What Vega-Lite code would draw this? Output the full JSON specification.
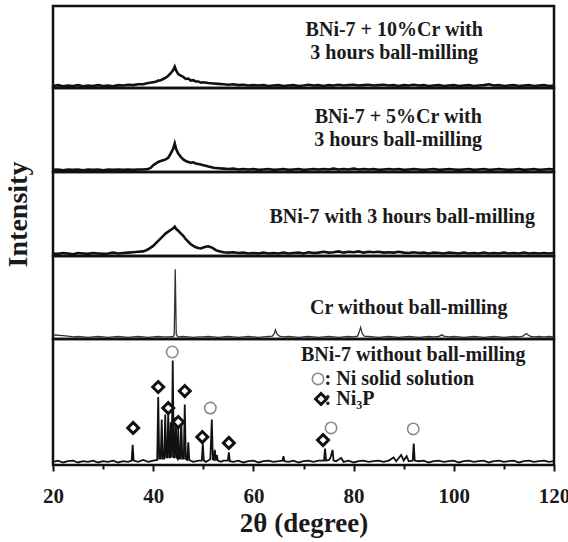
{
  "$schema": "https://vega.github.io/schema/vega-lite/v6.json",
  "padding": {"left": 2, "top": 4, "right": 0, "bottom": 0},
  "background": "white",
  "spacing": 0,
  "bounds": "flush",
  "config": {
    "view": {"stroke": "#111", "strokeWidth": 2.5},
    "font": "Liberation Serif",
    "text": {"font": "Liberation Serif", "fontWeight": "bold", "fontSize": 20, "color": "#1a1a1a"}
  },
  "datasets": {
    "p1": [
      {"theta":20,"intensity":2.5},{"theta":21,"intensity":3.5},{"theta":22,"intensity":2},{"theta":23,"intensity":3},{"theta":24,"intensity":2.5},{"theta":25,"intensity":3.5},{"theta":26,"intensity":2},{"theta":27,"intensity":3},{"theta":28,"intensity":2.5},{"theta":29,"intensity":3.5},{"theta":30,"intensity":2.5},{"theta":31,"intensity":3},{"theta":32,"intensity":2},{"theta":33,"intensity":3.5},{"theta":34,"intensity":3},{"theta":35,"intensity":4},{"theta":36,"intensity":3.5},{"theta":37,"intensity":4.5},{"theta":38,"intensity":4.5},{"theta":39,"intensity":6},{"theta":40,"intensity":7},{"theta":40.5,"intensity":7.5},{"theta":41,"intensity":9},{"theta":41.5,"intensity":9.5},{"theta":42,"intensity":11},{"theta":42.5,"intensity":12.5},{"theta":43,"intensity":15},{"theta":43.5,"intensity":18},{"theta":44,"intensity":22},{"theta":44.3,"intensity":26},{"theta":44.6,"intensity":21},{"theta":45,"intensity":17},{"theta":45.5,"intensity":15},{"theta":46,"intensity":13.5},{"theta":46.5,"intensity":11},{"theta":47,"intensity":11.5},{"theta":47.5,"intensity":9},{"theta":48,"intensity":9.5},{"theta":48.5,"intensity":8},{"theta":49,"intensity":8},{"theta":49.5,"intensity":6.5},{"theta":50,"intensity":7},{"theta":51,"intensity":6},{"theta":52,"intensity":5.5},{"theta":53,"intensity":5},{"theta":54,"intensity":4.5},{"theta":55,"intensity":4},{"theta":56,"intensity":4.5},{"theta":57,"intensity":3.5},{"theta":58,"intensity":4},{"theta":59,"intensity":3},{"theta":60,"intensity":3.5},{"theta":61,"intensity":3},{"theta":62,"intensity":3.5},{"theta":63,"intensity":2.5},{"theta":64,"intensity":3},{"theta":65,"intensity":3.5},{"theta":66,"intensity":2.5},{"theta":67,"intensity":3},{"theta":68,"intensity":3.5},{"theta":69,"intensity":2.5},{"theta":70,"intensity":3},{"theta":71,"intensity":4},{"theta":72,"intensity":3},{"theta":73,"intensity":3.5},{"theta":74,"intensity":2.5},{"theta":75,"intensity":3.5},{"theta":76,"intensity":3},{"theta":77,"intensity":4},{"theta":78,"intensity":3},{"theta":79,"intensity":3.5},{"theta":80,"intensity":4},{"theta":81,"intensity":3},{"theta":82,"intensity":3.5},{"theta":83,"intensity":4},{"theta":84,"intensity":3},{"theta":85,"intensity":3.5},{"theta":86,"intensity":4},{"theta":87,"intensity":3},{"theta":88,"intensity":3.5},{"theta":89,"intensity":2.5},{"theta":90,"intensity":3.5},{"theta":91,"intensity":3},{"theta":92,"intensity":4},{"theta":93,"intensity":3},{"theta":94,"intensity":3.5},{"theta":95,"intensity":2.5},{"theta":96,"intensity":3},{"theta":97,"intensity":3.5},{"theta":98,"intensity":2.5},{"theta":99,"intensity":3},{"theta":100,"intensity":3.5},{"theta":101,"intensity":2.5},{"theta":102,"intensity":3},{"theta":103,"intensity":3.5},{"theta":104,"intensity":2.5},{"theta":105,"intensity":3},{"theta":106,"intensity":3.5},{"theta":107,"intensity":4.5},{"theta":108,"intensity":3},{"theta":109,"intensity":3.5},{"theta":110,"intensity":2.5},{"theta":111,"intensity":3},{"theta":112,"intensity":3.5},{"theta":113,"intensity":2.5},{"theta":114,"intensity":3},{"theta":115,"intensity":3.5},{"theta":116,"intensity":2.5},{"theta":117,"intensity":3},{"theta":118,"intensity":3.5},{"theta":119,"intensity":2.5},{"theta":120,"intensity":3}
    ],
    "p2": [
      {"theta":20,"intensity":2.5},{"theta":21,"intensity":3},{"theta":22,"intensity":2},{"theta":23,"intensity":3},{"theta":24,"intensity":2.5},{"theta":25,"intensity":3},{"theta":26,"intensity":2},{"theta":27,"intensity":3},{"theta":28,"intensity":2.5},{"theta":29,"intensity":3},{"theta":30,"intensity":2},{"theta":31,"intensity":3},{"theta":32,"intensity":2.5},{"theta":33,"intensity":3},{"theta":34,"intensity":2.5},{"theta":35,"intensity":3},{"theta":36,"intensity":2.5},{"theta":37,"intensity":3},{"theta":38,"intensity":3},{"theta":39,"intensity":3.5},{"theta":39.5,"intensity":5},{"theta":40,"intensity":8},{"theta":40.5,"intensity":10},{"theta":41,"intensity":12},{"theta":41.5,"intensity":13},{"theta":42,"intensity":14},{"theta":42.5,"intensity":15},{"theta":43,"intensity":17},{"theta":43.5,"intensity":22},{"theta":44,"intensity":28},{"theta":44.3,"intensity":34},{"theta":44.6,"intensity":27},{"theta":45,"intensity":22},{"theta":45.5,"intensity":18},{"theta":46,"intensity":15},{"theta":46.5,"intensity":13},{"theta":47,"intensity":12},{"theta":47.5,"intensity":11},{"theta":48,"intensity":11.5},{"theta":48.5,"intensity":10},{"theta":49,"intensity":9.5},{"theta":49.5,"intensity":9},{"theta":50,"intensity":8},{"theta":50.5,"intensity":7.5},{"theta":51,"intensity":6.5},{"theta":51.5,"intensity":6},{"theta":52,"intensity":5},{"theta":53,"intensity":4.5},{"theta":54,"intensity":4},{"theta":55,"intensity":3.5},{"theta":56,"intensity":4},{"theta":57,"intensity":3},{"theta":58,"intensity":3.5},{"theta":59,"intensity":3},{"theta":60,"intensity":3.5},{"theta":61,"intensity":2.5},{"theta":62,"intensity":3},{"theta":63,"intensity":3.5},{"theta":64,"intensity":2.5},{"theta":65,"intensity":3},{"theta":66,"intensity":3.5},{"theta":67,"intensity":2.5},{"theta":68,"intensity":3},{"theta":69,"intensity":3.5},{"theta":70,"intensity":2.5},{"theta":71,"intensity":3},{"theta":72,"intensity":3.5},{"theta":73,"intensity":3},{"theta":74,"intensity":3.5},{"theta":75,"intensity":3},{"theta":76,"intensity":4},{"theta":77,"intensity":3},{"theta":78,"intensity":3.5},{"theta":79,"intensity":3},{"theta":80,"intensity":4},{"theta":81,"intensity":3},{"theta":82,"intensity":3.5},{"theta":83,"intensity":3},{"theta":84,"intensity":3.5},{"theta":85,"intensity":2.5},{"theta":86,"intensity":3},{"theta":87,"intensity":3.5},{"theta":88,"intensity":3},{"theta":89,"intensity":3.5},{"theta":90,"intensity":2.5},{"theta":91,"intensity":3},{"theta":92,"intensity":3.5},{"theta":93,"intensity":3},{"theta":94,"intensity":2.5},{"theta":95,"intensity":3},{"theta":96,"intensity":3.5},{"theta":97,"intensity":2.5},{"theta":98,"intensity":3},{"theta":99,"intensity":3.5},{"theta":100,"intensity":3},{"theta":101,"intensity":2.5},{"theta":102,"intensity":3},{"theta":103,"intensity":3.5},{"theta":104,"intensity":2.5},{"theta":105,"intensity":3},{"theta":106,"intensity":3.5},{"theta":107,"intensity":2.5},{"theta":108,"intensity":3},{"theta":109,"intensity":3.5},{"theta":110,"intensity":3},{"theta":111,"intensity":2.5},{"theta":112,"intensity":3},{"theta":113,"intensity":3.5},{"theta":114,"intensity":2.5},{"theta":115,"intensity":3},{"theta":116,"intensity":3.5},{"theta":117,"intensity":2.5},{"theta":118,"intensity":3},{"theta":119,"intensity":3.5},{"theta":120,"intensity":3}
    ],
    "p3": [
      {"theta":20,"intensity":3},{"theta":21,"intensity":2.5},{"theta":22,"intensity":3.5},{"theta":23,"intensity":3},{"theta":24,"intensity":2},{"theta":25,"intensity":3.5},{"theta":26,"intensity":3},{"theta":27,"intensity":2.5},{"theta":28,"intensity":3.5},{"theta":29,"intensity":3},{"theta":30,"intensity":2.5},{"theta":31,"intensity":3},{"theta":32,"intensity":4},{"theta":33,"intensity":3},{"theta":34,"intensity":3.5},{"theta":35,"intensity":4},{"theta":36,"intensity":4.5},{"theta":37,"intensity":5},{"theta":38,"intensity":5.5},{"theta":38.5,"intensity":6.5},{"theta":39,"intensity":8},{"theta":39.5,"intensity":10},{"theta":40,"intensity":12},{"theta":40.5,"intensity":15},{"theta":41,"intensity":18},{"theta":41.5,"intensity":21},{"theta":42,"intensity":24},{"theta":42.5,"intensity":27},{"theta":43,"intensity":29},{"theta":43.5,"intensity":31},{"theta":44,"intensity":33},{"theta":44.3,"intensity":35},{"theta":44.6,"intensity":32},{"theta":45,"intensity":30},{"theta":45.5,"intensity":27},{"theta":46,"intensity":24},{"theta":46.5,"intensity":20},{"theta":47,"intensity":17},{"theta":47.5,"intensity":14},{"theta":48,"intensity":12},{"theta":48.5,"intensity":10.5},{"theta":49,"intensity":9.5},{"theta":49.5,"intensity":9},{"theta":50,"intensity":10},{"theta":50.5,"intensity":11},{"theta":51,"intensity":11.5},{"theta":51.5,"intensity":10.5},{"theta":52,"intensity":9},{"theta":52.5,"intensity":7},{"theta":53,"intensity":6},{"theta":54,"intensity":4.5},{"theta":55,"intensity":4},{"theta":56,"intensity":4.5},{"theta":57,"intensity":3.5},{"theta":58,"intensity":4},{"theta":59,"intensity":3},{"theta":60,"intensity":3.5},{"theta":61,"intensity":3},{"theta":62,"intensity":4},{"theta":63,"intensity":3},{"theta":64,"intensity":3.5},{"theta":65,"intensity":3},{"theta":66,"intensity":4},{"theta":67,"intensity":3},{"theta":68,"intensity":3.5},{"theta":69,"intensity":4},{"theta":70,"intensity":3},{"theta":71,"intensity":4.5},{"theta":72,"intensity":3.5},{"theta":73,"intensity":4},{"theta":74,"intensity":5},{"theta":75,"intensity":4},{"theta":76,"intensity":4.5},{"theta":77,"intensity":5.5},{"theta":78,"intensity":4},{"theta":79,"intensity":5},{"theta":80,"intensity":4.5},{"theta":81,"intensity":5.5},{"theta":82,"intensity":4},{"theta":83,"intensity":5},{"theta":84,"intensity":4.5},{"theta":85,"intensity":5},{"theta":86,"intensity":4},{"theta":87,"intensity":4.5},{"theta":88,"intensity":4},{"theta":89,"intensity":5},{"theta":90,"intensity":4},{"theta":91,"intensity":3.5},{"theta":92,"intensity":4.5},{"theta":93,"intensity":3.5},{"theta":94,"intensity":4},{"theta":95,"intensity":3},{"theta":96,"intensity":4},{"theta":97,"intensity":3.5},{"theta":98,"intensity":3},{"theta":99,"intensity":4},{"theta":100,"intensity":3.5},{"theta":101,"intensity":3},{"theta":102,"intensity":4},{"theta":103,"intensity":3},{"theta":104,"intensity":3.5},{"theta":105,"intensity":3},{"theta":106,"intensity":4},{"theta":107,"intensity":3},{"theta":108,"intensity":3.5},{"theta":109,"intensity":3},{"theta":110,"intensity":4},{"theta":111,"intensity":3},{"theta":112,"intensity":3.5},{"theta":113,"intensity":3},{"theta":114,"intensity":4},{"theta":115,"intensity":3},{"theta":116,"intensity":3.5},{"theta":117,"intensity":3},{"theta":118,"intensity":3.5},{"theta":119,"intensity":3},{"theta":120,"intensity":3.5}
    ],
    "p4": [
      {"theta":20,"intensity":4},{"theta":20.5,"intensity":5},{"theta":21,"intensity":4.5},{"theta":22,"intensity":4},{"theta":23,"intensity":3.5},{"theta":24,"intensity":2.5},{"theta":25,"intensity":3},{"theta":26,"intensity":2.5},{"theta":27,"intensity":2},{"theta":28,"intensity":2.5},{"theta":29,"intensity":3},{"theta":30,"intensity":2.5},{"theta":31,"intensity":2},{"theta":32,"intensity":2.5},{"theta":33,"intensity":3},{"theta":34,"intensity":2.5},{"theta":35,"intensity":2},{"theta":36,"intensity":2.5},{"theta":37,"intensity":3},{"theta":38,"intensity":2.5},{"theta":39,"intensity":2},{"theta":40,"intensity":2.5},{"theta":41,"intensity":3},{"theta":42,"intensity":2.5},{"theta":43,"intensity":2.5},{"theta":44,"intensity":3},{"theta":44.2,"intensity":5},{"theta":44.4,"intensity":84},{"theta":44.6,"intensity":6},{"theta":44.8,"intensity":3.5},{"theta":45,"intensity":2.5},{"theta":46,"intensity":3},{"theta":47,"intensity":2.5},{"theta":48,"intensity":2},{"theta":49,"intensity":2.5},{"theta":50,"intensity":2.5},{"theta":51,"intensity":3},{"theta":52,"intensity":2.5},{"theta":53,"intensity":2},{"theta":54,"intensity":2.5},{"theta":55,"intensity":3},{"theta":56,"intensity":2.5},{"theta":57,"intensity":2},{"theta":58,"intensity":2.5},{"theta":59,"intensity":3},{"theta":60,"intensity":2.5},{"theta":61,"intensity":2},{"theta":62,"intensity":2.5},{"theta":63,"intensity":3},{"theta":63.8,"intensity":3.5},{"theta":64.2,"intensity":7},{"theta":64.4,"intensity":11},{"theta":64.7,"intensity":6},{"theta":65.2,"intensity":3.5},{"theta":66,"intensity":2.5},{"theta":67,"intensity":3},{"theta":68,"intensity":2.5},{"theta":69,"intensity":2},{"theta":70,"intensity":2.5},{"theta":71,"intensity":3},{"theta":72,"intensity":2.5},{"theta":73,"intensity":2},{"theta":74,"intensity":2.5},{"theta":75,"intensity":3},{"theta":76,"intensity":2.5},{"theta":77,"intensity":2},{"theta":78,"intensity":2.5},{"theta":79,"intensity":3},{"theta":80,"intensity":2.5},{"theta":80.8,"intensity":3.5},{"theta":81.1,"intensity":8},{"theta":81.4,"intensity":14},{"theta":81.7,"intensity":7},{"theta":82.1,"intensity":3.5},{"theta":83,"intensity":3},{"theta":84,"intensity":2.5},{"theta":85,"intensity":2},{"theta":86,"intensity":2.5},{"theta":87,"intensity":3},{"theta":88,"intensity":2.5},{"theta":89,"intensity":2},{"theta":90,"intensity":2.5},{"theta":91,"intensity":3},{"theta":92,"intensity":2.5},{"theta":93,"intensity":2},{"theta":94,"intensity":2.5},{"theta":95,"intensity":3},{"theta":96,"intensity":2.5},{"theta":97,"intensity":3},{"theta":97.3,"intensity":4},{"theta":97.6,"intensity":5},{"theta":98,"intensity":3.5},{"theta":99,"intensity":2.5},{"theta":100,"intensity":3},{"theta":101,"intensity":2.5},{"theta":102,"intensity":2},{"theta":103,"intensity":2.5},{"theta":104,"intensity":3},{"theta":105,"intensity":2.5},{"theta":106,"intensity":2},{"theta":107,"intensity":2.5},{"theta":108,"intensity":3},{"theta":109,"intensity":2.5},{"theta":110,"intensity":2},{"theta":111,"intensity":2.5},{"theta":112,"intensity":3},{"theta":113,"intensity":2.5},{"theta":113.8,"intensity":3.5},{"theta":114.2,"intensity":5.5},{"theta":114.5,"intensity":6.5},{"theta":114.9,"intensity":4.5},{"theta":115.4,"intensity":3},{"theta":116,"intensity":2.5},{"theta":117,"intensity":3},{"theta":118,"intensity":2.5},{"theta":119,"intensity":3},{"theta":120,"intensity":2.5}
    ],
    "p5": [
      {"theta":20,"intensity":2.5},{"theta":21,"intensity":3.5},{"theta":22,"intensity":2},{"theta":23,"intensity":3},{"theta":24,"intensity":3.5},{"theta":25,"intensity":2},{"theta":26,"intensity":3},{"theta":27,"intensity":2.5},{"theta":28,"intensity":3.5},{"theta":29,"intensity":2},{"theta":30,"intensity":3},{"theta":31,"intensity":2.5},{"theta":32,"intensity":3.5},{"theta":33,"intensity":2},{"theta":34,"intensity":3},{"theta":35,"intensity":2.5},{"theta":35.7,"intensity":3.5},{"theta":35.9,"intensity":16},{"theta":36.1,"intensity":3.5},{"theta":37,"intensity":2.5},{"theta":38,"intensity":4},{"theta":39,"intensity":2.5},{"theta":40,"intensity":3.5},{"theta":40.8,"intensity":4},{"theta":41.0,"intensity":54},{"theta":41.2,"intensity":5},{"theta":41.5,"intensity":5},{"theta":41.7,"intensity":36},{"theta":41.9,"intensity":5},{"theta":42.2,"intensity":5},{"theta":42.4,"intensity":40},{"theta":42.6,"intensity":6},{"theta":42.8,"intensity":6},{"theta":43.0,"intensity":41},{"theta":43.2,"intensity":6},{"theta":43.35,"intensity":6},{"theta":43.5,"intensity":34},{"theta":43.7,"intensity":6},{"theta":43.9,"intensity":83},{"theta":44.1,"intensity":6},{"theta":44.3,"intensity":6},{"theta":44.5,"intensity":38},{"theta":44.7,"intensity":6},{"theta":44.85,"intensity":5},{"theta":45.0,"intensity":29},{"theta":45.15,"intensity":5},{"theta":45.4,"intensity":5},{"theta":45.6,"intensity":36},{"theta":45.8,"intensity":5},{"theta":46.1,"intensity":5},{"theta":46.3,"intensity":48},{"theta":46.5,"intensity":5},{"theta":46.8,"intensity":4},{"theta":47.0,"intensity":18},{"theta":47.2,"intensity":4},{"theta":48,"intensity":2.5},{"theta":49,"intensity":3.5},{"theta":49.7,"intensity":3.5},{"theta":49.9,"intensity":17},{"theta":50.1,"intensity":3.5},{"theta":50.5,"intensity":2.5},{"theta":51,"intensity":3.5},{"theta":51.4,"intensity":4.5},{"theta":51.7,"intensity":36},{"theta":51.9,"intensity":4.5},{"theta":52.1,"intensity":4},{"theta":52.3,"intensity":12},{"theta":52.5,"intensity":3.5},{"theta":52.7,"intensity":8},{"theta":52.9,"intensity":3.5},{"theta":53.5,"intensity":2.5},{"theta":54,"intensity":3.5},{"theta":54.9,"intensity":3.5},{"theta":55.1,"intensity":10},{"theta":55.3,"intensity":3},{"theta":56,"intensity":2.5},{"theta":57,"intensity":3.5},{"theta":58,"intensity":2},{"theta":59,"intensity":3},{"theta":60,"intensity":3.5},{"theta":61,"intensity":2},{"theta":62,"intensity":3},{"theta":63,"intensity":3.5},{"theta":64,"intensity":2.5},{"theta":65,"intensity":3},{"theta":65.8,"intensity":3.5},{"theta":66.0,"intensity":7},{"theta":66.2,"intensity":3},{"theta":67,"intensity":2.5},{"theta":68,"intensity":3.5},{"theta":69,"intensity":2},{"theta":70,"intensity":3},{"theta":71,"intensity":3.5},{"theta":72,"intensity":2.5},{"theta":73,"intensity":3.5},{"theta":74.1,"intensity":3.5},{"theta":74.3,"intensity":13},{"theta":74.5,"intensity":3.5},{"theta":75.1,"intensity":4},{"theta":75.4,"intensity":6},{"theta":75.8,"intensity":12},{"theta":76.0,"intensity":3.5},{"theta":76.5,"intensity":3},{"theta":77.5,"intensity":5.5},{"theta":78,"intensity":2.5},{"theta":79,"intensity":3.5},{"theta":80,"intensity":2},{"theta":81,"intensity":3},{"theta":82,"intensity":3.5},{"theta":83,"intensity":2.5},{"theta":84,"intensity":3},{"theta":85,"intensity":3.5},{"theta":86,"intensity":2.5},{"theta":87,"intensity":3.5},{"theta":88,"intensity":6},{"theta":88.5,"intensity":3},{"theta":89.5,"intensity":8},{"theta":90,"intensity":3.5},{"theta":90.6,"intensity":7},{"theta":91,"intensity":3},{"theta":91.8,"intensity":3.5},{"theta":92.0,"intensity":17},{"theta":92.2,"intensity":3.5},{"theta":93,"intensity":3},{"theta":94,"intensity":3.5},{"theta":95,"intensity":2},{"theta":96,"intensity":3},{"theta":97,"intensity":3.5},{"theta":98,"intensity":2.5},{"theta":99,"intensity":3},{"theta":100,"intensity":3.5},{"theta":101,"intensity":2},{"theta":102,"intensity":3},{"theta":103,"intensity":3.5},{"theta":104,"intensity":2.5},{"theta":105,"intensity":3},{"theta":106,"intensity":3.5},{"theta":107,"intensity":2},{"theta":108,"intensity":3},{"theta":109,"intensity":3.5},{"theta":110,"intensity":2.5},{"theta":111,"intensity":3},{"theta":112,"intensity":3.5},{"theta":113,"intensity":2},{"theta":114,"intensity":3},{"theta":115,"intensity":3.5},{"theta":116,"intensity":2.5},{"theta":117,"intensity":3},{"theta":118,"intensity":3.5},{"theta":119,"intensity":2.5},{"theta":120,"intensity":3}
    ],
    "markers": [
      {"phase":"Ni3P","theta":36.0,"intensity":29.4},
      {"phase":"Ni3P","theta":41.0,"intensity":61.9},
      {"phase":"Ni","theta":43.8,"intensity":89.7},
      {"phase":"Ni3P","theta":43.0,"intensity":45.2},
      {"phase":"Ni3P","theta":46.3,"intensity":58.7},
      {"phase":"Ni3P","theta":45.0,"intensity":34.1},
      {"phase":"Ni","theta":51.4,"intensity":45.2},
      {"phase":"Ni3P","theta":49.8,"intensity":22.2},
      {"phase":"Ni3P","theta":55.1,"intensity":17.5},
      {"phase":"Ni3P","theta":73.9,"intensity":19.8},
      {"phase":"Ni","theta":75.5,"intensity":29.4},
      {"phase":"Ni","theta":91.9,"intensity":28.6},
      {"phase":"Ni","theta":72.9,"intensity":68.3},
      {"phase":"Ni3P","theta":73.5,"intensity":52.4}
    ],
    "labels": [
      {"panel":1,"theta":88.1,"intensity":70.7,"text":"BNi-7 + 10%Cr with"},
      {"panel":1,"theta":88.1,"intensity":42.7,"text":"3 hours ball-milling"},
      {"panel":2,"theta":88.9,"intensity":65.5,"text":"BNi-7 + 5%Cr with"},
      {"panel":2,"theta":88.9,"intensity":38,"text":"3 hours ball-milling"},
      {"panel":3,"theta":89.7,"intensity":46.4,"text":"BNi-7 with 3 hours ball-milling"},
      {"panel":4,"theta":91,"intensity":37.3,"text":"Cr without ball-milling"},
      {"panel":5,"theta":91.9,"intensity":87.3,"text":"BNi-7 without ball-milling"}
    ],
    "legend": [
      {"theta":74.2,"intensity":68.3,"text":": Ni solid solution"},
      {"theta":74.2,"intensity":52.4,"text":": Ni₃P"}
    ]
  },
  "vconcat": [
    {
      "width": 501, "height": 82,
      "layer": [
        {"data": {"name": "p1"}, "mark": {"type": "line", "color": "#111", "strokeWidth": 2.6},
         "encoding": {"x": {"field": "theta", "type": "quantitative", "scale": {"domain": [20, 120], "nice": false, "zero": false}, "axis": null},
                      "y": {"field": "intensity", "type": "quantitative", "scale": {"domain": [0, 100]}, "axis": null}}},
        {"data": {"name": "labels"}, "transform": [{"filter": "datum.panel === 1"}], "mark": {"type": "text", "align": "center", "baseline": "middle"},
         "encoding": {"x": {"field": "theta", "type": "quantitative", "axis": null}, "y": {"field": "intensity", "type": "quantitative", "axis": null}, "text": {"field": "text"}}}
      ]
    },
    {
      "width": 501, "height": 84,
      "layer": [
        {"data": {"name": "p2"}, "mark": {"type": "line", "color": "#111", "strokeWidth": 2.6},
         "encoding": {"x": {"field": "theta", "type": "quantitative", "scale": {"domain": [20, 120], "nice": false, "zero": false}, "axis": null},
                      "y": {"field": "intensity", "type": "quantitative", "scale": {"domain": [0, 100]}, "axis": null}}},
        {"data": {"name": "labels"}, "transform": [{"filter": "datum.panel === 2"}], "mark": {"type": "text", "align": "center", "baseline": "middle"},
         "encoding": {"x": {"field": "theta", "type": "quantitative", "axis": null}, "y": {"field": "intensity", "type": "quantitative", "axis": null}, "text": {"field": "text"}}}
      ]
    },
    {
      "width": 501, "height": 84,
      "layer": [
        {"data": {"name": "p3"}, "mark": {"type": "line", "color": "#111", "strokeWidth": 2.6},
         "encoding": {"x": {"field": "theta", "type": "quantitative", "scale": {"domain": [20, 120], "nice": false, "zero": false}, "axis": null},
                      "y": {"field": "intensity", "type": "quantitative", "scale": {"domain": [0, 100]},
                            "axis": {"title": "Intensity", "labels": false, "ticks": false, "domain": false, "grid": false, "titleFont": "Liberation Serif", "titleFontSize": 28, "titleFontWeight": "bold", "titleColor": "#1a1a1a", "titleX": -35, "titleY": 42, "titleAngle": -90, "titleAlign": "center", "titleBaseline": "middle"}}}},
        {"data": {"name": "labels"}, "transform": [{"filter": "datum.panel === 3"}], "mark": {"type": "text", "align": "center", "baseline": "middle"},
         "encoding": {"x": {"field": "theta", "type": "quantitative"}, "y": {"field": "intensity", "type": "quantitative"}, "text": {"field": "text"}}}
      ]
    },
    {
      "width": 501, "height": 83,
      "layer": [
        {"data": {"name": "p4"}, "mark": {"type": "line", "color": "#333", "strokeWidth": 1.3},
         "encoding": {"x": {"field": "theta", "type": "quantitative", "scale": {"domain": [20, 120], "nice": false, "zero": false}, "axis": null},
                      "y": {"field": "intensity", "type": "quantitative", "scale": {"domain": [0, 100]}, "axis": null}}},
        {"data": {"name": "labels"}, "transform": [{"filter": "datum.panel === 4"}], "mark": {"type": "text", "align": "center", "baseline": "middle"},
         "encoding": {"x": {"field": "theta", "type": "quantitative", "axis": null}, "y": {"field": "intensity", "type": "quantitative", "axis": null}, "text": {"field": "text"}}}
      ]
    },
    {
      "width": 501, "height": 126,
      "layer": [
        {"data": {"name": "p5"}, "mark": {"type": "line", "color": "#111", "strokeWidth": 1.8},
         "encoding": {"x": {"field": "theta", "type": "quantitative", "scale": {"domain": [20, 120], "nice": false, "zero": false},
                            "axis": {"values": [20, 30, 40, 50, 60, 70, 80, 90, 100, 110, 120], "labelExpr": "datum.value % 20 === 0 ? datum.label : ''",
                                     "tickSize": {"condition": {"test": "datum.value % 20 === 0", "value": 6}, "value": 4},
                                     "tickWidth": 2, "tickColor": "#111", "domain": false, "grid": false,
                                     "labelFont": "Liberation Serif", "labelFontWeight": "bold", "labelFontSize": 21, "labelColor": "#1a1a1a", "labelPadding": 14, "labelFlush": false, "labelOverlap": false,
                                     "title": "2θ (degree)", "titleFont": "Liberation Serif", "titleFontSize": 27, "titleFontWeight": "bold", "titleColor": "#1a1a1a", "titlePadding": 4}},
                      "y": {"field": "intensity", "type": "quantitative", "scale": {"domain": [0, 100]}, "axis": null}}},
        {"data": {"name": "markers"}, "transform": [{"filter": "datum.phase === 'Ni'"}], "mark": {"type": "point", "shape": "circle", "size": 130, "filled": true, "fill": "white", "stroke": "#8a8a8a", "strokeWidth": 1.6, "opacity": 1},
         "encoding": {"x": {"field": "theta", "type": "quantitative"}, "y": {"field": "intensity", "type": "quantitative"}}},
        {"data": {"name": "markers"}, "transform": [{"filter": "datum.phase === 'Ni3P'"}], "mark": {"type": "point", "shape": "diamond", "size": 120, "filled": true, "fill": "white", "stroke": "#111", "strokeWidth": 3, "opacity": 1},
         "encoding": {"x": {"field": "theta", "type": "quantitative"}, "y": {"field": "intensity", "type": "quantitative"}}},
        {"data": {"name": "labels"}, "transform": [{"filter": "datum.panel === 5"}], "mark": {"type": "text", "align": "center", "baseline": "middle"},
         "encoding": {"x": {"field": "theta", "type": "quantitative"}, "y": {"field": "intensity", "type": "quantitative"}, "text": {"field": "text"}}},
        {"data": {"name": "legend"}, "mark": {"type": "text", "align": "left", "baseline": "middle"},
         "encoding": {"x": {"field": "theta", "type": "quantitative"}, "y": {"field": "intensity", "type": "quantitative"}, "text": {"field": "text"}}}
      ]
    }
  ]
}
